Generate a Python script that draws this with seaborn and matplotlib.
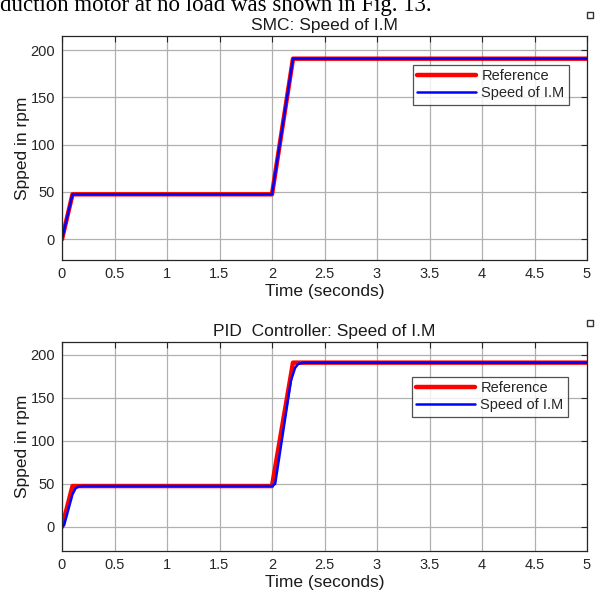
import matplotlib
matplotlib.use("Agg")
import matplotlib.pyplot as plt
import matplotlib.patches as mpatches
import seaborn as sns
import pandas as pd

# ---- data ----
ref_t = [0.0, 0.1, 2.0, 2.2, 5.0]
ref_v = [0.0, 47.5, 47.5, 191.0, 191.0]

smc_t = [0.0, 0.1, 2.0, 2.2, 5.0]
smc_v = [0.0, 47.5, 47.5, 191.0, 191.0]

pid_t = [0.0, 0.02, 0.1, 0.13, 0.16, 0.2, 2.0, 2.03, 2.18, 2.22, 2.25, 2.3, 5.0]
pid_v = [0.0, 2.0, 38.0, 45.0, 47.0, 47.5, 47.5, 50.0, 170.0, 185.0, 189.5, 191.0, 191.0]

xticks = [0, 0.5, 1, 1.5, 2, 2.5, 3, 3.5, 4, 4.5, 5]
xticklabels = ["0", "0.5", "1", "1.5", "2", "2.5", "3", "3.5", "4", "4.5", "5"]
yticks = [0, 50, 100, 150, 200]

titles = ["SMC: Speed of I.M", "PID  Controller: Speed of I.M"]
series_names = ["Reference", "Speed of I.M"]

sns.set_style("white")
plt.rcParams['font.family'] = ['Liberation Sans', 'DejaVu Sans']

fig = plt.figure(figsize=(6.01, 5.90), dpi=100)

fig.text(0.0, 1.0 - 11.5/590, "duction motor at no load was shown in Fig. 13.",
         family=['Liberation Serif'], fontsize=16.5, ha='left', va='baseline',
         color='black')

# small export icons at the upper right of each panel
for yy in (11, 319):
    fig.patches.append(mpatches.Rectangle((587/601, 1 - (yy + 7)/590), 6/601, 6/590,
                                          transform=fig.transFigure, fill=False,
                                          edgecolor='#333333', lw=1.0))

ax1 = fig.add_axes([62/601, 1 - 260/590, 525/601, 224/590])
ax2 = fig.add_axes([62/601, 1 - 551/590, 525/601, 209/590])

def draw(ax, speed_t, speed_v, title, ylim, legend_anchor):
    dref = pd.DataFrame({"t": ref_t, "v": ref_v})
    dsp = pd.DataFrame({"t": speed_t, "v": speed_v})
    sns.lineplot(data=dref, x="t", y="v", ax=ax, color="#ff0000", lw=3.2,
                 label=series_names[0], estimator=None, sort=False)
    sns.lineplot(data=dsp, x="t", y="v", ax=ax, color="#0000ff", lw=1.8,
                 label=series_names[1], estimator=None, sort=False)
    ax.set_xlim(0, 5)
    ax.set_ylim(*ylim)
    ax.set_xticks(xticks)
    ax.set_xticklabels(xticklabels)
    ax.set_yticks(yticks)
    ax.grid(True, color="#b0b0b0", lw=0.9)
    ax.tick_params(direction='in', top=True, right=True, labelsize=10.5,
                   length=4, colors='#262626', labelcolor='#262626', pad=5)
    for s in ax.spines.values():
        s.set_color('#262626')
        s.set_linewidth(0.9)
    ax.set_xlabel("Time (seconds)", fontsize=12.5, color='#1a1a1a', labelpad=2)
    ax.set_ylabel("Spped in rpm", fontsize=12.5, color='#1a1a1a', labelpad=0)
    ax.set_title(title, fontsize=12.5, color='#1a1a1a', pad=4)
    leg = ax.legend(loc='upper right', bbox_to_anchor=legend_anchor,
                    fontsize=10.5, frameon=True, fancybox=False,
                    edgecolor='#262626', handlelength=4.0, borderpad=0.3,
                    labelspacing=0.2, handletextpad=0.4, borderaxespad=0)
    leg.get_frame().set_linewidth(0.9)

draw(ax1, smc_t, smc_v, titles[0], (-22, 215), ((569 - 62) / 525, (260 - 65) / 224))
draw(ax2, pid_t, pid_v, titles[1], (-28, 215), ((568 - 62) / 525, (551 - 377) / 209))

fig.savefig("out.png", dpi=100)
